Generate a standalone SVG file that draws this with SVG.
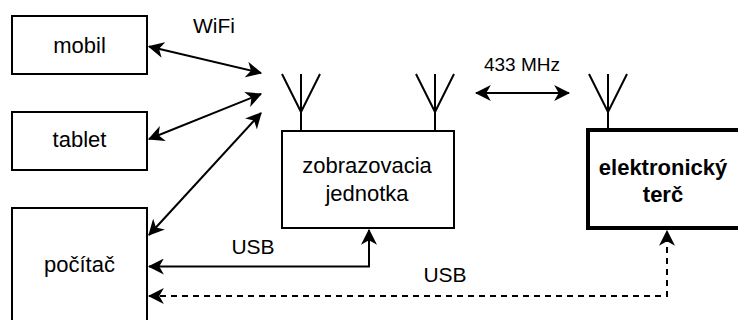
<svg xmlns="http://www.w3.org/2000/svg" width="738" height="320" viewBox="0 0 738 320">
  <defs>
    <marker id="arr" markerUnits="userSpaceOnUse" markerWidth="16" markerHeight="16" viewBox="0 0 14 14" refX="13" refY="7" orient="auto-start-reverse">
      <path d="M0,0 L14,7 L0,14 L4,7 z" fill="#000"/>
    </marker>
  </defs>
  <style>
    .box { fill: #fff; stroke: #000; stroke-width: 2; }
    .thick { fill: #fff; stroke: #000; stroke-width: 4; }
    .ant { fill: none; stroke: #000; stroke-width: 2; }
    .edge { fill: none; stroke: #000; stroke-width: 2; }
    .dash { stroke-dasharray: 6 5; }
    text { font-family: "Liberation Sans", Arial, sans-serif; font-size: 22px; fill: #000; text-anchor: middle; }
    .lbl { font-size: 21px; }
    .bold { font-weight: bold; }
  </style>
  <rect width="738" height="320" fill="#fff"/>

  <g id="mobil">
    <rect class="box" x="12" y="16" width="135" height="58"/>
    <text x="79.5" y="53">mobil</text>
  </g>
  <g id="tablet">
    <rect class="box" x="12" y="112" width="135" height="58"/>
    <text x="79.5" y="147">tablet</text>
  </g>
  <g id="pocitac">
    <rect class="box" x="12" y="208" width="135" height="120"/>
    <text x="79.5" y="272">počítač</text>
  </g>
  <g id="zobrazovacia-jednotka">
    <path class="ant" d="M282,74 L301,112 L320,74 M301,74 L301,131"/>
    <path class="ant" d="M416,74 L435,112 L454,74 M435,74 L435,131"/>
    <rect class="box" x="282" y="131" width="172" height="97"/>
    <text x="367" y="173">zobrazovacia</text>
    <text x="367" y="201">jednotka</text>
  </g>
  <g id="elektronicky-terc">
    <path class="ant" d="M589,74 L608,112 L627,74 M608,74 L608,130"/>
    <rect class="thick" x="588" y="130" width="154" height="98"/>
    <text class="bold" x="663" y="175">elektronický</text>
    <text class="bold" x="663" y="202">terč</text>
  </g>

  <g id="connectors">
    <line class="edge" x1="149" y1="46.5" x2="261" y2="73" marker-start="url(#arr)" marker-end="url(#arr)"/>
    <line class="edge" x1="149" y1="139" x2="261" y2="94" marker-start="url(#arr)" marker-end="url(#arr)"/>
    <line class="edge" x1="149" y1="235" x2="261" y2="113" marker-end="url(#arr)" marker-start="url(#arr)"/>
    <line class="edge" x1="476" y1="93" x2="569" y2="93" marker-start="url(#arr)" marker-end="url(#arr)"/>
    <path class="edge" d="M149,266.5 L369,266.5 L369,230" marker-start="url(#arr)" marker-end="url(#arr)"/>
    <path class="edge dash" d="M149,296 L667,296 L667,231" marker-start="url(#arr)" marker-end="url(#arr)"/>
    <text class="lbl" x="214" y="33">WiFi</text>
    <text class="lbl" x="522" y="71" style="font-size:19px">433 MHz</text>
    <text class="lbl" x="253" y="254">USB</text>
    <text class="lbl" x="445" y="282">USB</text>
  </g>
</svg>
